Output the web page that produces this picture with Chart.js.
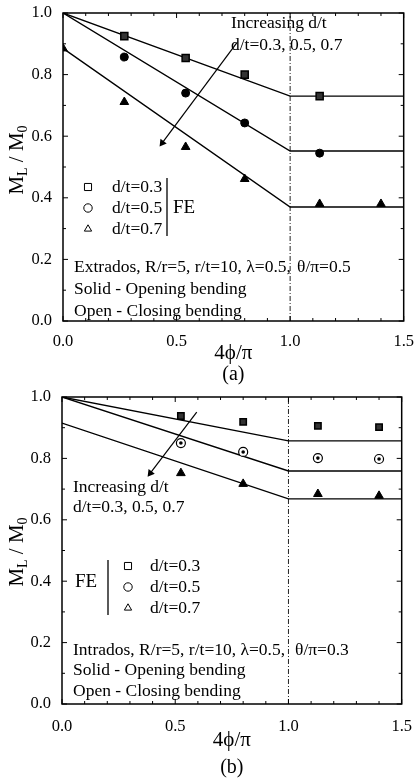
<!DOCTYPE html>
<html>
<head>
<meta charset="utf-8">
<script src="https://cdn.jsdelivr.net/npm/chart.js@4.4.1/dist/chart.umd.min.js"></script>
<style>
  body { margin: 0; background: #fff; }
  canvas { position: absolute; left: 0; }
</style>
</head>
<body>
<canvas id="chartA" width="417" height="389" style="top:0"></canvas>
<canvas id="chartB" width="417" height="394" style="top:384px"></canvas>
<script>
// model lines: linear drop up to 4phi/pi = 1, flat after
const lineX = [0, 1.0, 1.5];
const aLine03 = [1.0, 0.73, 0.73];
const aLine05 = [1.0, 0.552, 0.552];
const aLine07 = [0.885, 0.37, 0.37];
const bLine03 = [1.0, 0.857, 0.857];
const bLine05 = [1.0, 0.759, 0.759];
const bLine07 = [0.915, 0.668, 0.668];

// FE results, (a) extrados
const aSqX = [0.27, 0.54, 0.80, 1.13];
const aSqY = [0.925, 0.854, 0.80, 0.73];
const aCiX = [0.27, 0.54, 0.80, 1.13];
const aCiY = [0.857, 0.74, 0.643, 0.545];
const aTrX = [0, 0.27, 0.54, 0.80, 1.13, 1.40];
const aTrY = [0.885, 0.711, 0.565, 0.461, 0.38, 0.38];

// FE results, (b) intrados
const bX = [0.525, 0.80, 1.13, 1.40];
const bSqY = [0.938, 0.919, 0.906, 0.902];
const bCiY = [0.850, 0.821, 0.801, 0.798];
const bTrY = [0.752, 0.717, 0.684, 0.678];

// dash-dot divider and "increasing d/t" arrows
const kneeX = [1.0, 1.0];
const kneeY = [0, 1.0];
const aArrowX = [0.765, 0.437];
const aArrowY = [0.903, 0.578];
const bArrowX = [0.595, 0.39];
const bArrowY = [0.951, 0.752];

const serif = "'Liberation Serif', 'DejaVu Serif', serif";
const pts = (xs, ys) => xs.map((x, i) => ({ x, y: ys[i] }));

function lineSet(ys) {
  return { data: pts(lineX, ys), showLine: true, borderColor: '#000', borderWidth: 1.4, pointRadius: 0 };
}
function markSet(xs, ys, style, r, bg, bw) {
  return { data: pts(xs, ys), pointStyle: style, pointRadius: r, backgroundColor: bg,
           borderColor: '#000', borderWidth: bw, showLine: false };
}
function kneeSet() {
  return { data: pts(kneeX, kneeY), showLine: true, borderColor: '#222', borderWidth: 1,
           borderDash: [5, 2, 1, 2], pointRadius: 0 };
}
function arrowSet(xs, ys) {
  return { data: pts(xs, ys), showLine: true, borderColor: '#000', borderWidth: 1.2,
           pointRadius: [0, 4.5], pointStyle: 'triangle', rotation: 217,
           backgroundColor: '#000', pointBorderWidth: 0 };
}

function drawFrame(chart) {
  const { ctx, chartArea: a, scales: { x, y } } = chart;
  ctx.save();
  ctx.strokeStyle = '#000';
  ctx.lineWidth = 1.5;
  ctx.strokeRect(a.left, a.top, a.right - a.left, a.bottom - a.top);
  ctx.lineWidth = 1;
  ctx.beginPath();
  for (let i = 0; i <= 15; i++) {
    const px = x.getPixelForValue(i / 10), len = i % 5 === 0 ? 5 : 3;
    ctx.moveTo(px, a.bottom); ctx.lineTo(px, a.bottom - len);
    ctx.moveTo(px, a.top); ctx.lineTo(px, a.top + len);
  }
  for (let i = 0; i <= 10; i++) {
    const py = y.getPixelForValue(i / 10), len = i % 2 === 0 ? 5 : 3;
    ctx.moveTo(a.left, py); ctx.lineTo(a.left + len, py);
    ctx.moveTo(a.right, py); ctx.lineTo(a.right - len, py);
  }
  ctx.stroke();
  ctx.restore();
}

function drawYTitle(ctx, cx, cy) {
  const big = `21px ${serif}`, small = `14px ${serif}`;
  const parts = [['M', big, 0], ['L', small, 4], [' / M', big, 0], ['0', small, 4]];
  ctx.save();
  ctx.translate(cx, cy);
  ctx.rotate(-Math.PI / 2);
  let w = 0;
  parts.forEach(p => { ctx.font = p[1]; w += ctx.measureText(p[0]).width; });
  let x = -w / 2;
  ctx.fillStyle = '#000';
  ctx.textBaseline = 'alphabetic';
  parts.forEach(p => { ctx.font = p[1]; ctx.fillText(p[0], x, 7 + p[2]); x += ctx.measureText(p[0]).width; });
  ctx.restore();
}

// texts, legend and frame drawn on top of each panel
function paperPlugin(spec) {
  return {
    id: 'paper',
    afterDraw(chart) {
      const ctx = chart.ctx;
      drawFrame(chart);
      drawYTitle(ctx, 16, spec.yTitleY);
      ctx.save();
      ctx.fillStyle = '#000';
      ctx.textBaseline = 'middle';
      ctx.textAlign = 'left';
      ctx.font = `17.5px ${serif}`;
      spec.texts.forEach(t => ctx.fillText(t[0], t[1], t[2]));
      // FE legend
      const L = spec.legend;
      const styles = ['rect', 'circle', 'triangle'];
      const labels = ['d/t=0.3', 'd/t=0.5', 'd/t=0.7'];
      ctx.strokeStyle = '#000';
      ctx.lineWidth = 1;
      styles.forEach((s, i) => {
        const yy = L.rows[i];
        ctx.fillStyle = '#fff';
        Chart.helpers.drawPoint(ctx, { pointStyle: s, radius: s === 'rect' ? 5 : 4.2, borderWidth: 1, rotation: 0 }, L.markX, yy);
        ctx.fillStyle = '#000';
        ctx.fillText(labels[i], L.textX, yy);
      });
      ctx.lineWidth = 1.3;
      ctx.beginPath();
      ctx.moveTo(L.barX, L.barTop);
      ctx.lineTo(L.barX, L.barBottom);
      ctx.stroke();
      ctx.font = `19px ${serif}`;
      ctx.fillText('FE', L.feX, L.feY);
      ctx.restore();
    }
  };
}

function makeChart(id, datasets, spec) {
  return new Chart(document.getElementById(id), {
    type: 'scatter',
    data: { datasets },
    options: {
      responsive: false,
      animation: false,
      layout: { padding: { left: 0, right: 10, top: 13, bottom: 0 } },
      plugins: {
        legend: { display: false },
        tooltip: { enabled: false },
        title: {
          display: true, position: 'bottom', fullSize: false, text: spec.label, color: '#000',
          font: { family: serif, size: 20, weight: 'normal', lineHeight: 1 },
          padding: { top: spec.labelPad[0], bottom: spec.labelPad[1] }
        }
      },
      scales: {
        x: {
          type: 'linear', min: 0, max: 1.5,
          grid: { display: false }, border: { display: false },
          ticks: { stepSize: 0.5, maxRotation: 0, autoSkip: false, padding: spec.xTickPad, color: '#000',
                   font: { family: serif, size: 16.5 }, callback: v => v.toFixed(1) },
          title: { display: true, text: '4\u03d5/\u03c0', color: '#000',
                   font: { family: serif, size: 21, lineHeight: 1 }, padding: { top: 0, bottom: 1.5 } },
          afterFit: s => { s.height = spec.xHeight; }
        },
        y: {
          type: 'linear', min: 0, max: 1.0,
          grid: { display: false }, border: { display: false },
          ticks: { stepSize: 0.2, padding: 3, color: '#000',
                   font: { family: serif, size: 16.5 }, callback: v => v.toFixed(1) },
          afterFit: s => { s.width = spec.yWidth; }
        }
      }
    },
    plugins: [paperPlugin(spec)]
  });
}

makeChart('chartA', [
  markSet(aSqX, aSqY, 'rect', 5, '#333', 1.5),
  markSet(aCiX, aCiY, 'circle', 4, '#000', 1),
  markSet(aTrX, aTrY, 'triangle', 5, '#000', 1),
  lineSet(aLine03), lineSet(aLine05), lineSet(aLine07),
  kneeSet(),
  arrowSet(aArrowX, aArrowY)
], {
  label: '(a)', labelPad: [0, 4], xHeight: 44, xTickPad: 3, yWidth: 63, yTitleY: 160,
  texts: [
    ['Increasing d/t', 231, 23],
    ['d/t=0.3, 0.5, 0.7', 231, 45],
    ['Extrados, R/r=5, r/t=10, \u03bb=0.5,', 74, 267],
    ['\u03b8/\u03c0=0.5', 297, 267],
    ['Solid - Opening bending', 74, 289],
    ['Open - Closing bending', 74, 311]
  ],
  legend: { markX: 88, textX: 112, rows: [187, 208, 229], barX: 167, barTop: 178, barBottom: 236, feX: 173, feY: 208 }
});

makeChart('chartB', [
  markSet(bX, bSqY, 'rect', 4.5, '#333', 1.5),
  markSet(bX, bCiY, 'circle', 1.8, '#000', 0),
  markSet(bX, bCiY, 'circle', 4.5, '#fff', 1.2),
  markSet(bX, bTrY, 'triangle', 5, '#000', 1),
  lineSet(bLine03), lineSet(bLine05), lineSet(bLine07),
  kneeSet(),
  arrowSet(bArrowX, bArrowY)
], {
  label: '(b)', labelPad: [6, 0], xHeight: 48, xTickPad: 5, yWidth: 62, yTitleY: 168,
  texts: [
    ['Increasing d/t', 73, 103],
    ['d/t=0.3, 0.5, 0.7', 73, 123],
    ['Intrados, R/r=5, r/t=10, \u03bb=0.5,', 73, 266],
    ['\u03b8/\u03c0=0.3', 295, 266],
    ['Solid - Opening bending', 73, 286],
    ['Open - Closing bending', 73, 307]
  ],
  legend: { markX: 128, textX: 150, rows: [182, 203, 224], barX: 108, barTop: 176, barBottom: 231, feX: 75, feY: 198 }
});
</script>
</body>
</html>
